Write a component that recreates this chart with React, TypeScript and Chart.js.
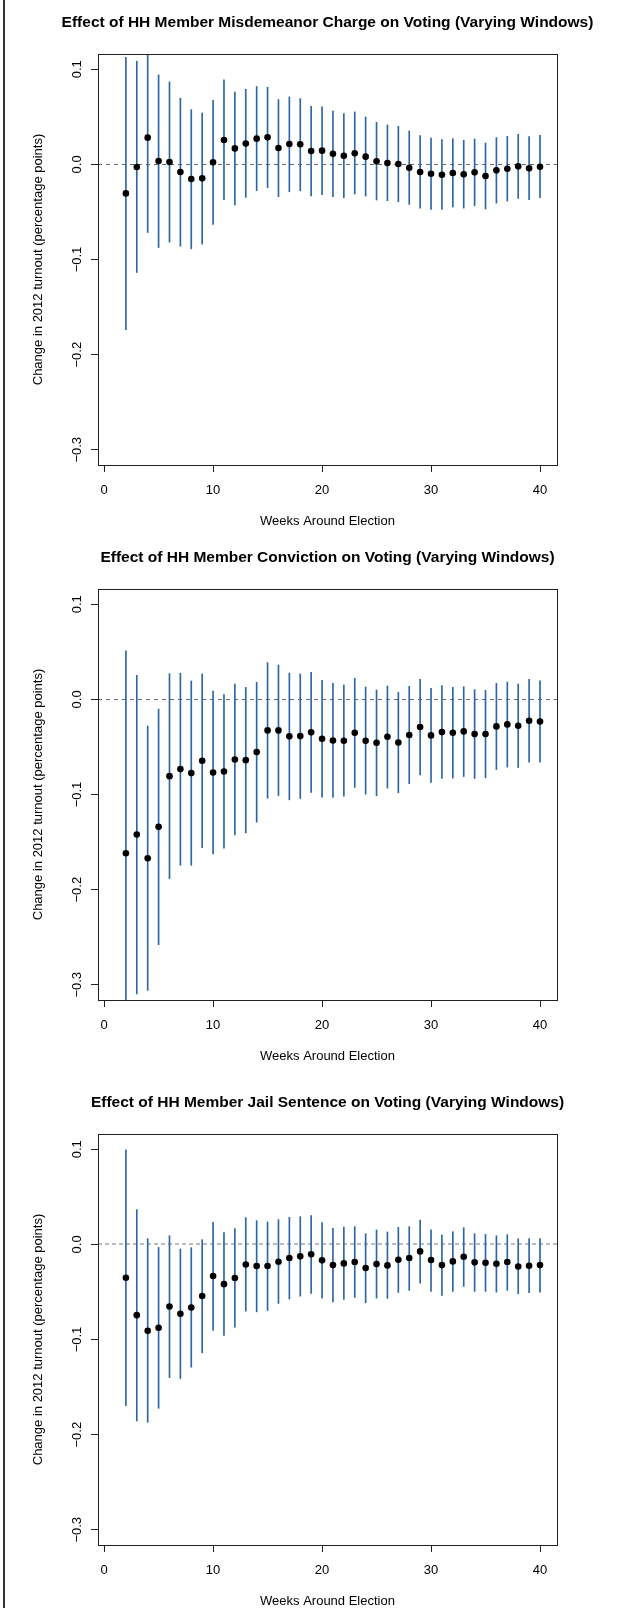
import React, { useEffect, useRef } from "react";
import { Chart, registerables } from "chart.js";

Chart.register(...registerables);

const weeks = [2, 3, 4, 5, 6, 7, 8, 9, 10, 11, 12, 13, 14, 15, 16, 17, 18, 19, 20, 21, 22, 23, 24, 25, 26, 27, 28, 29, 30, 31, 32, 33, 34, 35, 36, 37, 38, 39, 40];

const misdEst = [-0.0305, -0.0028, 0.0281, 0.0035, 0.0025, -0.0081, -0.0154, -0.0147, 0.0021, 0.0256, 0.0168, 0.0218, 0.027, 0.0284, 0.0172, 0.0214, 0.0211, 0.014, 0.0144, 0.0112, 0.0091, 0.0116, 0.0081, 0.0032, 0.0014, 0.0004, -0.0035, -0.0081, -0.0098, -0.0109, -0.0091, -0.0105, -0.0084, -0.0123, -0.0063, -0.0046, -0.0021, -0.0042, -0.0025];
const misdHi = [0.1126, 0.1084, 0.128, 0.094, 0.0867, 0.0695, 0.0575, 0.054, 0.0674, 0.0888, 0.0761, 0.0789, 0.0818, 0.081, 0.0681, 0.0709, 0.0691, 0.0611, 0.0604, 0.0561, 0.0533, 0.0551, 0.0498, 0.0442, 0.0414, 0.04, 0.0351, 0.0302, 0.0277, 0.026, 0.027, 0.0253, 0.0267, 0.0225, 0.0281, 0.0295, 0.0316, 0.0291, 0.0305];
const misdLo = [-0.1737, -0.1137, -0.0716, -0.0874, -0.0818, -0.086, -0.0888, -0.0839, -0.0632, -0.0372, -0.0425, -0.0347, -0.0277, -0.0246, -0.034, -0.0288, -0.0277, -0.0333, -0.0319, -0.034, -0.0351, -0.0312, -0.0333, -0.0375, -0.0382, -0.0393, -0.0421, -0.046, -0.0474, -0.0474, -0.0449, -0.046, -0.0435, -0.047, -0.0407, -0.0386, -0.0358, -0.0372, -0.0351];

const convEst = [-0.1618, -0.1421, -0.167, -0.134, -0.0807, -0.0733, -0.0775, -0.0646, -0.0768, -0.0758, -0.0632, -0.0639, -0.0554, -0.0326, -0.0326, -0.0389, -0.0386, -0.0347, -0.0414, -0.0432, -0.0435, -0.0351, -0.0435, -0.0456, -0.0393, -0.0453, -0.0375, -0.0291, -0.0379, -0.0344, -0.0351, -0.0337, -0.0365, -0.0365, -0.0284, -0.0263, -0.0277, -0.0225, -0.0232];
const convHi = [0.0509, 0.0253, -0.0281, -0.0102, 0.027, 0.0274, 0.0193, 0.0267, 0.0088, 0.0049, 0.0161, 0.0126, 0.0179, 0.0386, 0.0361, 0.0277, 0.0267, 0.0284, 0.02, 0.0168, 0.0151, 0.0221, 0.013, 0.0098, 0.014, 0.0074, 0.0137, 0.0211, 0.0116, 0.0144, 0.0126, 0.0133, 0.0102, 0.0095, 0.0168, 0.0182, 0.0161, 0.0211, 0.0196];
const convLo = [-0.3745, -0.3095, -0.306, -0.2579, -0.1884, -0.1744, -0.1744, -0.1558, -0.1625, -0.1565, -0.1425, -0.1404, -0.1291, -0.1039, -0.1011, -0.1056, -0.1042, -0.0979, -0.1028, -0.1032, -0.1018, -0.0926, -0.0996, -0.1014, -0.0933, -0.0982, -0.0886, -0.0793, -0.0874, -0.0832, -0.0828, -0.0811, -0.0832, -0.0825, -0.0737, -0.0712, -0.0716, -0.066, -0.066];

const jailEst = [-0.0351, -0.0744, -0.0909, -0.0877, -0.0653, -0.073, -0.0663, -0.0544, -0.0333, -0.0418, -0.0354, -0.0211, -0.0228, -0.0228, -0.0182, -0.0144, -0.0126, -0.0105, -0.0168, -0.0218, -0.02, -0.0186, -0.0249, -0.0207, -0.0221, -0.0161, -0.0144, -0.0074, -0.0165, -0.0218, -0.0179, -0.013, -0.0189, -0.0193, -0.0204, -0.0186, -0.0232, -0.0225, -0.0218];
const jailHi = [0.0993, 0.0365, 0.006, -0.0032, 0.0091, -0.0049, -0.0035, 0.0049, 0.0232, 0.0123, 0.0165, 0.0281, 0.0249, 0.0235, 0.026, 0.0284, 0.0291, 0.0302, 0.0228, 0.0168, 0.0182, 0.0186, 0.0112, 0.0151, 0.013, 0.0179, 0.0186, 0.0256, 0.0154, 0.0098, 0.0133, 0.0175, 0.0112, 0.0105, 0.0091, 0.0102, 0.006, 0.006, 0.006];
const jailLo = [-0.1695, -0.1856, -0.187, -0.1723, -0.14, -0.1411, -0.1291, -0.114, -0.0905, -0.0958, -0.087, -0.0702, -0.0709, -0.0695, -0.0621, -0.0575, -0.0544, -0.0516, -0.0565, -0.0604, -0.0579, -0.0558, -0.0614, -0.0565, -0.0568, -0.0505, -0.0484, -0.0407, -0.0495, -0.0537, -0.0495, -0.0442, -0.0495, -0.0495, -0.0502, -0.0484, -0.0519, -0.0509, -0.0502];

const xTicks = [0, 10, 20, 30, 40];
const yTicks = [-0.3, -0.2, -0.1, 0, 0.1];
const yTickLabels = ["\u22120.3", "\u22120.2", "\u22120.1", "0.0", "0.1"];

const titles = [
  "Effect of HH Member Misdemeanor Charge on Voting (Varying Windows)",
  "Effect of HH Member Conviction on Voting (Varying Windows)",
  "Effect of HH Member Jail Sentence on Voting (Varying Windows)",
];
const xTitle = "Weeks Around Election";
const yTitle = "Change in 2012 turnout (percentage points)";

const FONT = '"Liberation Sans", Arial, Helvetica, sans-serif';
const BAR = "#2c66a4";
const W = 617;
const BOX_LEFT = 98;
const BOX_RIGHT = 557;
const BOX_H = 411;
const TOP_PAD = 54;

type PanelDef = {
  title: string;
  top: number;
  height: number;
  est: number[];
  lo: number[];
  hi: number[];
  zeroColor: string;
  zeroWidth: number;
  zeroDash: number[];
};

const panels: PanelDef[] = [
  { title: titles[0], top: 0, height: 535, est: misdEst, lo: misdLo, hi: misdHi, zeroColor: "#666", zeroWidth: 1, zeroDash: [4, 4] },
  { title: titles[1], top: 535, height: 545, est: convEst, lo: convLo, hi: convHi, zeroColor: "#666", zeroWidth: 1, zeroDash: [4, 4] },
  { title: titles[2], top: 1080, height: 528, est: jailEst, lo: jailLo, hi: jailHi, zeroColor: "#bbb", zeroWidth: 2, zeroDash: [4, 3] },
];

function Panel({ def }: { def: PanelDef }) {
  const ref = useRef<HTMLCanvasElement | null>(null);
  useEffect(() => {
    const canvas = ref.current;
    if (!canvas) return;
    const xH = def.height - TOP_PAD - BOX_H;
    const deco = {
      id: "deco",
      beforeDatasetsDraw(chart: any) {
        const { ctx, chartArea } = chart;
        const y0 = chart.scales.y.getPixelForValue(0);
        ctx.save();
        ctx.strokeStyle = def.zeroColor;
        ctx.lineWidth = def.zeroWidth;
        ctx.setLineDash(def.zeroDash);
        ctx.beginPath();
        ctx.moveTo(chartArea.left, Math.round(y0) + (def.zeroWidth % 2 ? 0.5 : 0));
        ctx.lineTo(chartArea.right, Math.round(y0) + (def.zeroWidth % 2 ? 0.5 : 0));
        ctx.stroke();
        ctx.restore();
      },
      afterDraw(chart: any) {
        const { ctx, chartArea } = chart;
        const xs = chart.scales.x;
        const ys = chart.scales.y;
        ctx.save();
        ctx.strokeStyle = "#222";
        ctx.lineWidth = 1;
        ctx.setLineDash([]);
        ctx.strokeRect(
          Math.round(chartArea.left) + 0.5,
          Math.round(chartArea.top) + 0.5,
          Math.round(chartArea.right - chartArea.left),
          Math.round(chartArea.bottom - chartArea.top)
        );
        ctx.fillStyle = "#000";
        const cx = (chartArea.left + chartArea.right) / 2;
        const cy = (chartArea.top + chartArea.bottom) / 2;
        ctx.font = `bold 15.5px ${FONT}`;
        ctx.textAlign = "center";
        ctx.textBaseline = "middle";
        ctx.fillText(def.title, cx, chartArea.top - 31);
        ctx.font = `13px ${FONT}`;
        xTicks.forEach((v) => {
          ctx.fillText(String(v), xs.getPixelForValue(v), chartArea.bottom + 25);
        });
        ctx.fillText(xTitle, cx, chartArea.bottom + 56);
        yTicks.forEach((v, i) => {
          ctx.save();
          ctx.translate(77, ys.getPixelForValue(v));
          ctx.rotate(-Math.PI / 2);
          ctx.fillText(yTickLabels[i], 0, 0);
          ctx.restore();
        });
        ctx.save();
        ctx.translate(38, cy);
        ctx.rotate(-Math.PI / 2);
        ctx.fillText(yTitle, 0, 0);
        ctx.restore();
        ctx.restore();
      },
    };
    const chart = new Chart(canvas, {
      type: "bar",
      data: {
        datasets: [
          {
            type: "bar",
            data: weeks.map((w, i) => ({ x: w, y: [def.lo[i], def.hi[i]] })) as any,
            backgroundColor: BAR,
            borderWidth: 0,
            barThickness: 1,
            grouped: false,
            order: 2,
          } as any,
          {
            type: "scatter",
            data: weeks.map((w, i) => ({ x: w, y: def.est[i] })),
            pointRadius: 3.3,
            pointBackgroundColor: "#000",
            pointBorderColor: "#000",
            pointBorderWidth: 0,
            showLine: false,
            order: 1,
          } as any,
        ],
      },
      options: {
        animation: false,
        responsive: false,
        maintainAspectRatio: false,
        events: [],
        layout: { padding: { left: 0, right: W - BOX_RIGHT, top: TOP_PAD, bottom: 0 } },
        plugins: { legend: { display: false }, tooltip: { enabled: false }, title: { display: false } },
        scales: {
          x: {
            type: "linear",
            min: -0.56,
            max: 41.56,
            offset: false,
            afterBuildTicks: (s: any) => {
              s.ticks = xTicks.map((v) => ({ value: v }));
            },
            afterFit: (s: any) => {
              s.height = xH;
            },
            ticks: { display: false },
            grid: { offset: false, drawOnChartArea: false, drawTicks: true, tickLength: 7, color: "#222", lineWidth: 1 },
            border: { display: false },
          },
          y: {
            type: "linear",
            min: -0.316,
            max: 0.116,
            afterBuildTicks: (s: any) => {
              s.ticks = yTicks.map((v) => ({ value: v }));
            },
            afterFit: (s: any) => {
              s.width = BOX_LEFT;
            },
            ticks: { display: false },
            grid: { drawOnChartArea: false, drawTicks: true, tickLength: 7, color: "#222", lineWidth: 1 },
            border: { display: false },
          },
        },
      } as any,
      plugins: [deco],
    });
    return () => chart.destroy();
  }, [def]);
  return (
    <canvas
      ref={ref}
      width={W}
      height={def.height}
      style={{ position: "absolute", left: 0, top: def.top, width: W, height: def.height }}
    />
  );
}

export default function App() {
  useEffect(() => {
    document.body.style.margin = "0";
  }, []);
  return (
    <div style={{ position: "absolute", left: 0, top: 0, width: W, height: 1608, overflow: "hidden", background: "#fff" }}>
      <div style={{ position: "absolute", left: 3, top: 0, width: 2, height: 1608, background: "#333" }} />
      {panels.map((p, i) => (
        <Panel key={i} def={p} />
      ))}
    </div>
  );
}
